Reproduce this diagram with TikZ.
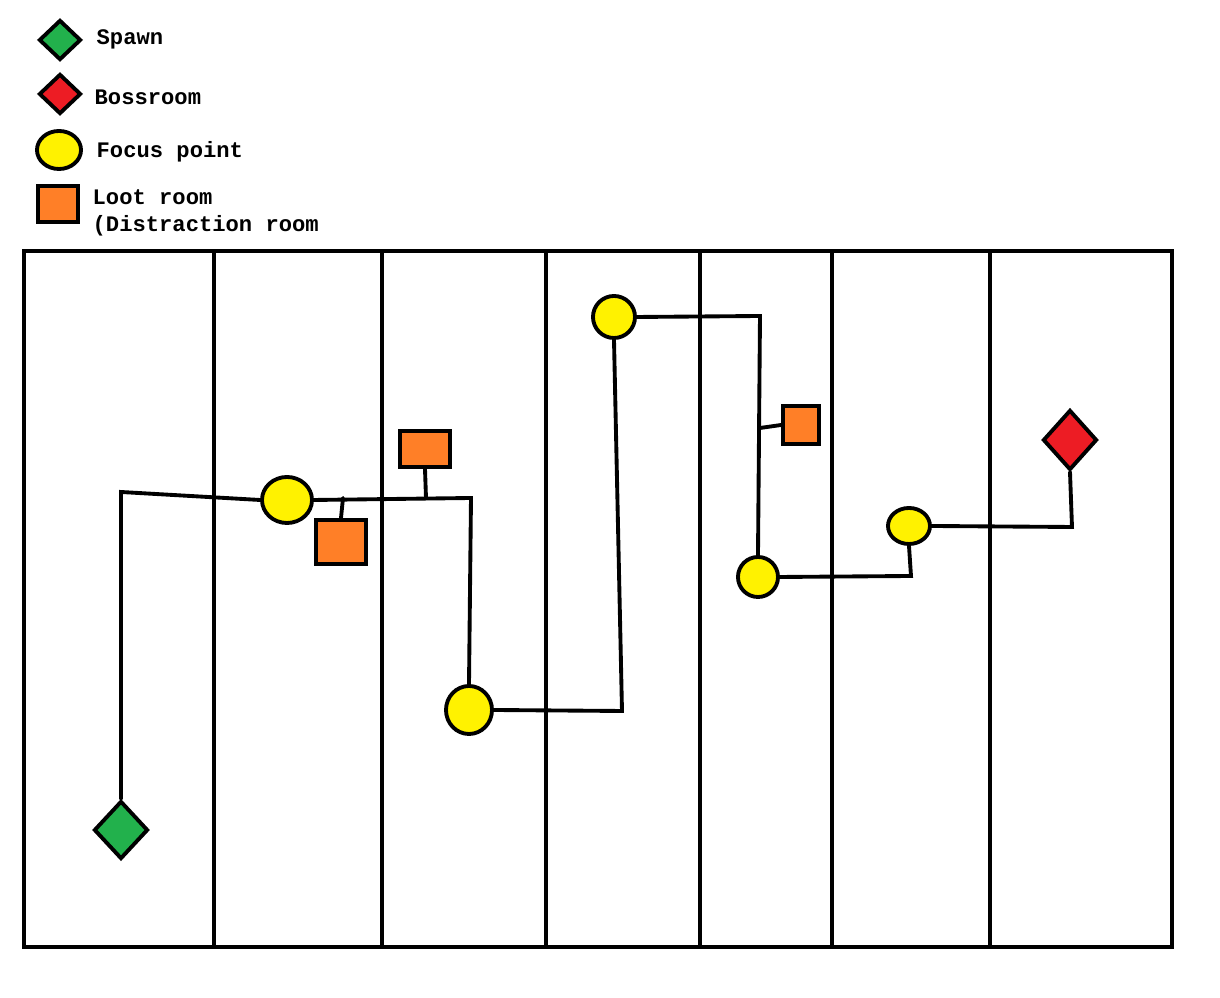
\documentclass[tikz,border=0pt]{standalone}
\usepackage{fontspec}
\setmonofont{Liberation Mono}
\usetikzlibrary{shapes.geometric, positioning}
\definecolor{spawngreen}{HTML}{22B14C}
\definecolor{bossred}{HTML}{ED1C24}
\definecolor{focusyellow}{HTML}{FFF200}
\definecolor{lootorange}{HTML}{FF7F27}
\tikzset{
	wire/.style={line width=1.1pt, line cap=round},
	spawnroom/.style={diamond,draw,line width=1.1pt,fill=spawngreen,inner sep=0pt,minimum width=0.54cm,minimum height=0.58cm},
	bossroom/.style={diamond,draw,line width=1.1pt,fill=bossred,inner sep=0pt,minimum width=0.54cm,minimum height=0.6cm},
	focuspt/.style={ellipse,draw,line width=1.1pt,fill=focusyellow,inner sep=0pt},
	lootroom/.style={rectangle,draw,line width=1.1pt,fill=lootorange,inner sep=0pt},
	legendtext/.style={anchor=west,inner sep=0pt,font=\ttfamily\bfseries\fontsize{6.3pt}{7.8pt}\selectfont,align=left}
}
\begin{document}
\begin{tikzpicture}[x=0.01cm,y=-0.01cm]
		\useasboundingbox (0,0) rectangle (1220,998);
		% legend
		\node[spawnroom,minimum width=0.42cm,minimum height=0.4cm] (LS) at (60,40) {};
		\node[legendtext] (LSt) at (96,39) {Spawn};
		\node[bossroom,minimum width=0.42cm,minimum height=0.4cm] (LB) at (60,94) {};
		\node[legendtext] (LBt) at (94,97) {Bossroom};
		\node[focuspt,minimum width=0.44cm,minimum height=0.38cm] (LF) at (59,150) {};
		\node[legendtext] (LFt) at (96,152) {Focus point};
		\node[lootroom,minimum width=0.4cm,minimum height=0.36cm] (LL) at (58,204) {};
		\node[legendtext] (LLt) at (92,213) {Loot room\\(Distraction room};

		% map frame and zones
		\draw[wire] (24,251) rectangle (1172,947);
		\foreach \x in {214,382,546,700,832,990}
			\draw[wire] (\x,251) -- (\x,947);

		% rooms
		\node[spawnroom] (S) at (121,830) {};
		\node[bossroom] (B) at (1070,440) {};
		\node[focuspt,minimum width=0.5cm,minimum height=0.46cm] (F1) at (287,500) {};
		\node[focuspt,minimum width=0.46cm,minimum height=0.48cm] (F2) at (469,710) {};
		\node[focuspt,minimum width=0.42cm,minimum height=0.42cm] (F3) at (614,317) {};
		\node[focuspt,minimum width=0.4cm,minimum height=0.4cm] (F4) at (758,577) {};
		\node[focuspt,minimum width=0.42cm,minimum height=0.36cm] (F5) at (909,526) {};
		\node[lootroom,minimum width=0.5cm,minimum height=0.36cm] (L1) at (425,449) {};
		\node[lootroom,minimum width=0.5cm,minimum height=0.44cm] (L2) at (341,542) {};
		\node[lootroom,minimum width=0.36cm,minimum height=0.38cm] (L3) at (801,425) {};

		\coordinate (J1) at (343,498);
		\coordinate (J2) at (426,498);
		\coordinate (J3) at (760,428);

		% paths
		\draw[wire] (S.north) -- (121,492) -- (F1.west);
		\draw[wire] (F1.east) -- (471,498) -- (F2.north);
		\draw[wire] (J1) -- (L2.north);
		\draw[wire] (J2) -- (L1.south);
		\draw[wire] (F2.east) -- (622,711) -- (F3.south);
		\draw[wire] (F3.east) -- (760,316) -- (F4.north);
		\draw[wire] (J3) -- (L3.west);
		\draw[wire] (F4.east) -- (911,576) -- (F5.south);
		\draw[wire] (F5.east) -- (1072,527) -- (B.south);
	\end{tikzpicture}
\end{document}
